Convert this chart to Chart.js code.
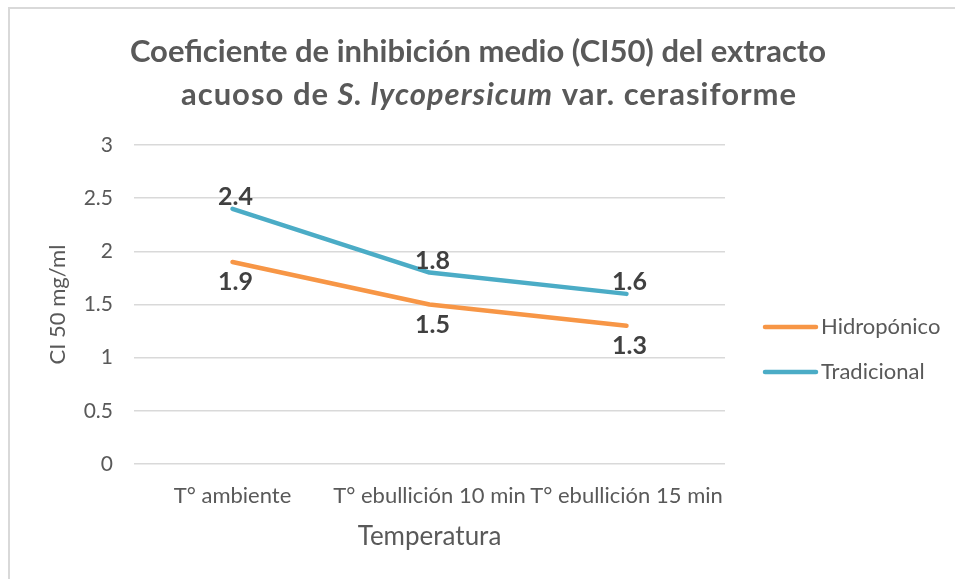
<!DOCTYPE html>
<html><head><meta charset="utf-8">
<script src="https://cdn.jsdelivr.net/npm/chart.js@4"></script>
<style>html,body{margin:0;padding:0;background:#fff}#wrap{width:955px;height:579px;position:relative}</style>
</head><body><div id="wrap"><canvas id="c" width="955" height="579"></canvas></div>
<script>
const categories = ['T° ambiente', 'T° ebullición 10 min', 'T° ebullición 15 min'];
const hidroponico = [1.9, 1.5, 1.3];
const tradicional = [2.4, 1.8, 1.6];
const yMin = 0, yMax = 3, yStep = 0.5;
const seriesNames = ['Hidropónico', 'Tradicional'];
const xTitle = 'Temperatura';
const yTitle = 'CI 50 mg/ml';
const titleLine1 = 'Coeficiente de inhibición medio (CI50) del extracto';
const titleLine2 = [['acuoso de ', false], ['S. lycopersicum', true], [' var. cerasiforme', false]];

const FONT = 'Lato, "Open Sans", sans-serif';
const TXT = '#595959';
const ORANGE = '#F79646';
const BLUE = '#4BACC6';

const decor = {
  id: 'decor',
  beforeDraw(chart) {
    const ctx = chart.ctx;
    ctx.save();
    ctx.fillStyle = '#fff';
    ctx.fillRect(0, 0, chart.width, chart.height);
    ctx.strokeStyle = '#d9d9d9';
    ctx.lineWidth = 2;
    ctx.beginPath();
    ctx.moveTo(9, chart.height + 5);
    ctx.lineTo(9, 8);
    ctx.lineTo(chart.width + 5, 8);
    ctx.stroke();
    ctx.restore();
  },
  afterDraw(chart) {
    const ctx = chart.ctx;
    ctx.save();
    // title
    const TF = 'bold 31px ' + FONT;
    ctx.fillStyle = TXT;
    ctx.textBaseline = 'middle';
    ctx.textAlign = 'center';
    ctx.font = TF;
    ctx.fillText(titleLine1, 478, 52);
    if ('letterSpacing' in ctx) ctx.letterSpacing = '1px';
    let total = 0;
    const widths = titleLine2.map(([t, it]) => {
      ctx.font = (it ? 'italic ' : '') + TF;
      const w = ctx.measureText(t).width; total += w; return w;
    });
    let x = 489 - total / 2;
    ctx.textAlign = 'left';
    titleLine2.forEach(([t, it], i) => {
      ctx.font = (it ? 'italic ' : '') + TF;
      ctx.fillText(t, x, 95);
      x += widths[i];
    });
    if ('letterSpacing' in ctx) ctx.letterSpacing = '0px';
    // legend
    const ys = [327, 372];
    chart.data.datasets.forEach((ds, i) => {
      ctx.strokeStyle = ds.borderColor;
      ctx.lineWidth = 4.5;
      ctx.lineCap = 'round';
      ctx.beginPath();
      ctx.moveTo(765, ys[i]);
      ctx.lineTo(816, ys[i]);
      ctx.stroke();
      ctx.fillStyle = TXT;
      ctx.font = '22px ' + FONT;
      ctx.textAlign = 'left';
      ctx.textBaseline = 'middle';
      ctx.fillText(ds.label, 821, ys[i]);
    });
    ctx.restore();
  },
  afterDatasetsDraw(chart) {
    const ctx = chart.ctx;
    ctx.save();
    ctx.fillStyle = '#404040';
    ctx.font = 'bold 25px ' + FONT;
    ctx.textAlign = 'center';
    ctx.textBaseline = 'middle';
    chart.data.datasets.forEach((ds, i) => {
      const meta = chart.getDatasetMeta(i);
      const dy = ds.labelPos === 'above' ? -12 : 20;
      meta.data.forEach((pt, j) => {
        ctx.fillText(String(ds.data[j]), pt.x + 3, pt.y + dy);
      });
    });
    ctx.restore();
  }
};

new Chart(document.getElementById('c'), {
  type: 'line',
  data: {
    labels: categories,
    datasets: [
      { label: seriesNames[0], data: hidroponico, borderColor: ORANGE, backgroundColor: ORANGE, borderWidth: 4.5, borderCapStyle: 'round', borderJoinStyle: 'round', pointRadius: 0, tension: 0, labelPos: 'below' },
      { label: seriesNames[1], data: tradicional, borderColor: BLUE, backgroundColor: BLUE, borderWidth: 4.5, borderCapStyle: 'round', borderJoinStyle: 'round', pointRadius: 0, tension: 0, labelPos: 'above' }
    ]
  },
  options: {
    responsive: false,
    animation: false,
    devicePixelRatio: 1,
    layout: { padding: { left: 0, right: 230, top: 145, bottom: 0 } },
    plugins: { legend: { display: false }, title: { display: false }, tooltip: { enabled: false } },
    scales: {
      x: {
        offset: true,
        grid: { display: false, drawTicks: false },
        border: { display: false },
        ticks: { color: TXT, font: { family: FONT, size: 22 }, padding: 19, maxRotation: 0, autoSkip: false },
        title: { display: true, text: xTitle, color: TXT, font: { family: FONT, size: 26 }, padding: { top: 0, bottom: 27 } },
        afterFit(s) { s.height = 115; }
      },
      y: {
        min: yMin, max: yMax,
        grid: { color: '#d9d9d9', lineWidth: 1.5, drawTicks: false },
        border: { display: false },
        ticks: { stepSize: yStep, color: TXT, font: { family: FONT, size: 21 }, padding: 21, callback: v => String(v) },
        title: { display: true, text: yTitle, color: TXT, font: { family: FONT, size: 22 }, padding: { top: 45, bottom: 0 } },
        afterFit(s) { s.width = 134; }
      }
    }
  },
  plugins: [decor]
});
</script></body></html>
